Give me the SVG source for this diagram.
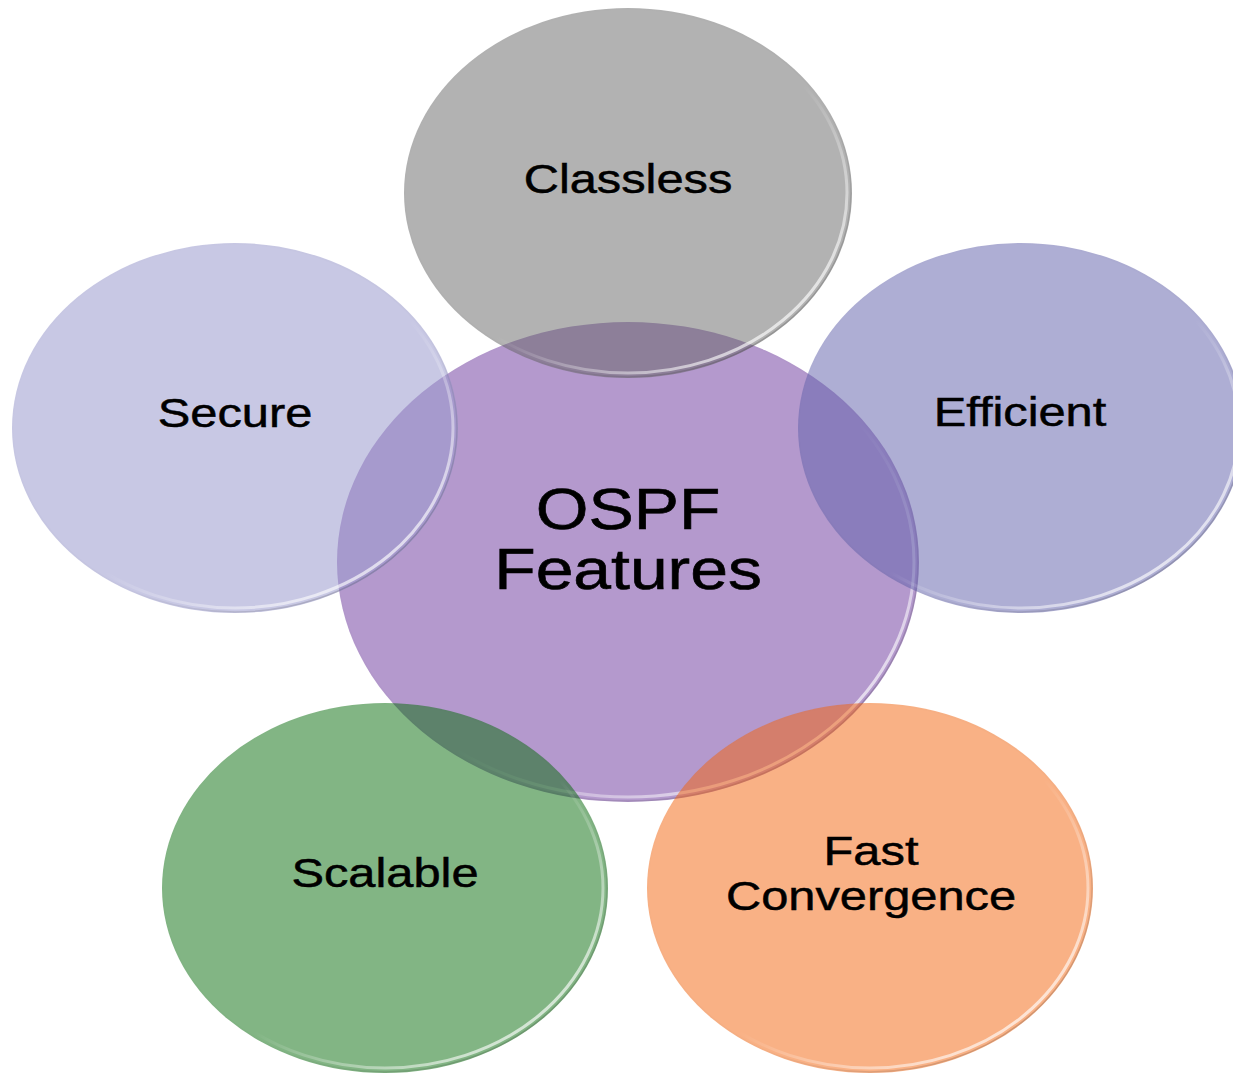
<svg xmlns="http://www.w3.org/2000/svg" width="1233" height="1073" viewBox="0 0 1233 1073">
  <defs>
    <linearGradient id="rim" x1="0" y1="0" x2="1" y2="1">
      <stop offset="0" stop-color="#ffffff" stop-opacity="0"/>
      <stop offset="0.55" stop-color="#ffffff" stop-opacity="0"/>
      <stop offset="0.82" stop-color="#ffffff" stop-opacity="0.6"/>
      <stop offset="1" stop-color="#ffffff" stop-opacity="0.9"/>
    </linearGradient>
    <linearGradient id="shade" x1="0" y1="0" x2="1" y2="1">
      <stop offset="0" stop-color="#000000" stop-opacity="0"/>
      <stop offset="0.6" stop-color="#000000" stop-opacity="0.02"/>
      <stop offset="1" stop-color="#000000" stop-opacity="0.25"/>
    </linearGradient>
  </defs>
  <style>
    .lbl { font-family: "Liberation Sans", Arial, sans-serif; font-size: 41px; fill: #000000; stroke: #000000; stroke-width: 0.5; text-anchor: middle; }
    .big { font-size: 57px; stroke-width: 0.6; }
    .rim { fill: none; stroke: url(#rim); stroke-width: 3; }
    .shade { fill: none; stroke: url(#shade); stroke-width: 1.5; }
  </style>
  <rect width="1233" height="1073" fill="#ffffff"/>
  <g id="connectors"/>

  <g id="node-center">
    <ellipse cx="628" cy="562" rx="291" ry="240" fill="#b499cd"/>
    <ellipse class="shade" cx="628" cy="562" rx="290" ry="239"/>
    <ellipse class="rim" cx="628" cy="562" rx="286" ry="235"/>
    <text class="lbl big" transform="translate(628,529) scale(1.19,1)">OSPF</text>
    <text class="lbl big" transform="translate(628,589) scale(1.19,1)">Features</text>
  </g>

  <g id="node-classless">
    <ellipse cx="628" cy="193" rx="224" ry="185" fill="#656565" fill-opacity="0.5"/>
    <ellipse class="shade" cx="628" cy="193" rx="223" ry="184"/>
    <ellipse class="rim" cx="628" cy="193" rx="219" ry="180"/>
    <text class="lbl" transform="translate(628,193) scale(1.19,1)">Classless</text>
  </g>

  <g id="node-secure">
    <ellipse cx="235" cy="428" rx="223" ry="185" fill="#9b9bce" fill-opacity="0.55"/>
    <ellipse class="shade" cx="235" cy="428" rx="222" ry="184"/>
    <ellipse class="rim" cx="235" cy="428" rx="218" ry="180"/>
    <text class="lbl" transform="translate(235,427) scale(1.19,1)">Secure</text>
  </g>

  <g id="node-efficient">
    <ellipse cx="1021" cy="428" rx="223" ry="185" fill="#6363ac" fill-opacity="0.52"/>
    <ellipse class="shade" cx="1021" cy="428" rx="222" ry="184"/>
    <ellipse class="rim" cx="1021" cy="428" rx="218" ry="180"/>
    <text class="lbl" transform="translate(1020,426) scale(1.19,1)">Efficient</text>
  </g>

  <g id="node-scalable">
    <ellipse cx="385" cy="888" rx="223" ry="185" fill="#056b09" fill-opacity="0.5"/>
    <ellipse class="shade" cx="385" cy="888" rx="222" ry="184"/>
    <ellipse class="rim" cx="385" cy="888" rx="218" ry="180"/>
    <text class="lbl" transform="translate(385,887) scale(1.19,1)">Scalable</text>
  </g>

  <g id="node-fast-convergence">
    <ellipse cx="870" cy="888" rx="223" ry="185" fill="#f3630b" fill-opacity="0.5"/>
    <ellipse class="shade" cx="870" cy="888" rx="222" ry="184"/>
    <ellipse class="rim" cx="870" cy="888" rx="218" ry="180"/>
    <text class="lbl" transform="translate(871,865) scale(1.19,1)">Fast</text>
    <text class="lbl" transform="translate(871,910) scale(1.19,1)">Convergence</text>
  </g>
</svg>
